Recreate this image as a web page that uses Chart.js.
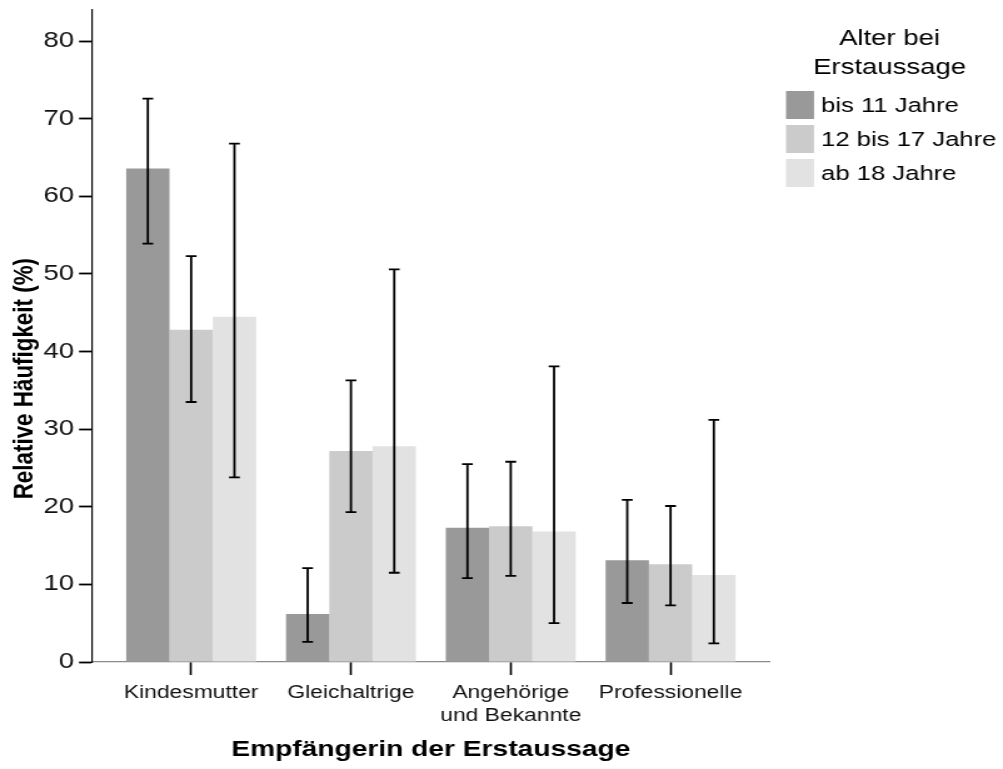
<!DOCTYPE html>
<html lang="de">
<head>
<meta charset="utf-8">
<title>Empfängerin der Erstaussage nach Alter</title>
<script src="https://cdn.jsdelivr.net/npm/chart.js@4/dist/chart.umd.min.js"></script>
<style>
  html, body { margin: 0; padding: 0; background: #fff; overflow: hidden; }
  /* the chart is laid out narrower and widened horizontally */
  #wrap { width: 802px; height: 769px; transform: scaleX(1.25062); transform-origin: 0 0; }
</style>
</head>
<body>
<div id="wrap"><canvas id="chart"></canvas></div>
<script>
// Categories on the x axis (multi-line label as array)
const categories = ['Kindesmutter', 'Gleichaltrige', ['Angehörige', 'und Bekannte'], 'Professionelle'];
const seriesLabels = ['bis 11 Jahre', '12 bis 17 Jahre', 'ab 18 Jahre'];
const yTickValues = [0, 10, 20, 30, 40, 50, 60, 70, 80];

// Relative frequencies (%) with confidence interval bounds
const bis11 = [63.6, 6.2, 17.3, 13.1];
const bis11Low = [53.9, 2.6, 10.8, 7.6];
const bis11High = [72.6, 12.1, 25.5, 20.9];

const von12bis17 = [42.8, 27.2, 17.5, 12.6];
const von12bis17Low = [33.5, 19.3, 11.1, 7.3];
const von12bis17High = [52.3, 36.3, 25.8, 20.1];

const ab18 = [44.5, 27.8, 16.8, 11.2];
const ab18Low = [23.8, 11.5, 5.0, 2.4];
const ab18High = [66.8, 50.6, 38.1, 31.2];

const seriesColors = ['#999999', '#cbcbcb', '#e2e2e2'];

const FONT = "'Liberation Sans', Arial, Helvetica, sans-serif";
Chart.defaults.font.family = FONT;
Chart.defaults.color = '#000';

function points(values) {
  return values.map((v, i) => ({ x: i, y: v }));
}

// Whisker lines for the confidence intervals
const errorBars = {
  id: 'errorBars',
  afterDatasetsDraw(chart, args, opts) {
    const { ctx } = chart;
    const y = chart.scales.y;
    ctx.save();
    ctx.strokeStyle = opts.color;
    ctx.lineWidth = opts.width;
    chart.data.datasets.forEach((ds, di) => {
      const meta = chart.getDatasetMeta(di);
      meta.data.forEach((bar, i) => {
        const lo = y.getPixelForValue(ds.errLow[i]);
        const hi = y.getPixelForValue(ds.errHigh[i]);
        ctx.beginPath();
        ctx.moveTo(bar.x, lo); ctx.lineTo(bar.x, hi);
        ctx.moveTo(bar.x - opts.cap, lo); ctx.lineTo(bar.x + opts.cap, lo);
        ctx.moveTo(bar.x - opts.cap, hi); ctx.lineTo(bar.x + opts.cap, hi);
        ctx.stroke();
      });
    });
    ctx.restore();
  }
};

// Rotated y axis title
const yTitle = {
  id: 'yTitle',
  afterDraw(chart, args, opts) {
    const { ctx, chartArea } = chart;
    ctx.save();
    ctx.font = opts.font;
    ctx.fillStyle = '#000';
    ctx.textAlign = 'center';
    ctx.textBaseline = 'middle';
    ctx.translate(opts.x, (chartArea.top + chartArea.bottom) / 2 + opts.shift);
    ctx.rotate(-Math.PI / 2);
    ctx.fillText(opts.text, 0, 0);
    ctx.restore();
  }
};

// Legend with two-line title to the right of the plot
const ageLegend = {
  id: 'ageLegend',
  afterDraw(chart, args, opts) {
    const { ctx } = chart;
    ctx.save();
    ctx.fillStyle = '#000';
    ctx.textBaseline = 'middle';
    ctx.textAlign = 'center';
    ctx.font = opts.titleFont;
    opts.title.forEach((line, i) => ctx.fillText(line, opts.titleX, opts.titleY + i * opts.titleGap));
    ctx.textAlign = 'left';
    ctx.font = opts.font;
    chart.data.datasets.forEach((ds, i) => {
      const top = opts.top + i * opts.pitch;
      ctx.fillStyle = ds.backgroundColor;
      ctx.fillRect(opts.x, top, opts.boxW, opts.boxH);
      ctx.fillStyle = '#000';
      ctx.fillText(ds.label, opts.textX, top + opts.boxH / 2 + 1);
    });
    ctx.restore();
  }
};

new Chart(document.getElementById('chart'), {
  type: 'bar',
  data: {
    datasets: [
      { label: seriesLabels[0], data: points(bis11), errLow: bis11Low, errHigh: bis11High, backgroundColor: seriesColors[0] },
      { label: seriesLabels[1], data: points(von12bis17), errLow: von12bis17Low, errHigh: von12bis17High, backgroundColor: seriesColors[1] },
      { label: seriesLabels[2], data: points(ab18), errLow: ab18Low, errHigh: ab18High, backgroundColor: seriesColors[2] }
    ]
  },
  options: {
    responsive: true,
    maintainAspectRatio: false,
    animation: false,
    devicePixelRatio: 1,
    events: [],
    layout: { padding: { left: 0, right: 187, top: 9.3, bottom: 0 } },
    datasets: {
      bar: { categoryPercentage: 0.813, barPercentage: 1, borderWidth: 0 }
    },
    scales: {
      x: {
        type: 'linear',
        min: -0.617,
        max: 3.617,
        offset: false,
        z: 1,
        afterBuildTicks: s => { s.ticks = categories.map((_, i) => ({ value: i })); },
        afterFit: s => { s.height = 107; s.paddingLeft = 0; s.paddingRight = 0; },
        grid: { offset: false, drawOnChartArea: false, drawTicks: true, tickLength: 13, tickColor: '#000', tickWidth: 1.6 },
        border: { display: true, color: '#8a8a8a', width: 1.3 },
        ticks: {
          autoSkip: false,
          maxRotation: 0,
          align: 'center',
          padding: 6.5,
          color: '#111',
          font: { size: 18.3, lineHeight: 1.25 },
          callback: v => categories[v]
        },
        title: {
          display: true,
          text: 'Empfängerin der Erstaussage',
          font: { size: 22.5, weight: 'bold' },
          padding: { top: 0, bottom: 5.5 },
          color: '#000'
        }
      },
      y: {
        min: 0,
        max: 84.1,
        afterBuildTicks: s => { s.ticks = yTickValues.map(v => ({ value: v })); },
        afterFit: s => { s.width = 74; s.paddingTop = 0; s.paddingBottom = 0; },
        grid: { drawOnChartArea: false, drawTicks: true, tickLength: 10.8, tickColor: '#000', tickWidth: 1.8 },
        border: { display: true, color: '#000', width: 1.2 },
        ticks: { padding: 4, color: '#111', font: { size: 22 } }
      }
    },
    plugins: {
      legend: { display: false },
      tooltip: { enabled: false },
      errorBars: { color: '#000', width: 1.8, cap: 4.3 },
      yTitle: { text: 'Relative Häufigkeit (%)', font: 'bold 22.4px ' + FONT, x: 19.4, shift: 43 },
      ageLegend: {
        title: ['Alter bei', 'Erstaussage'],
        titleFont: '22px ' + FONT,
        titleX: 711.3, titleY: 39, titleGap: 28.5,
        font: '20.5px ' + FONT,
        x: 628.5, top: 91, pitch: 34, boxW: 22.4, boxH: 28, textX: 656.5
      }
    }
  },
  plugins: [errorBars, yTitle, ageLegend]
});
</script>
</body>
</html>
